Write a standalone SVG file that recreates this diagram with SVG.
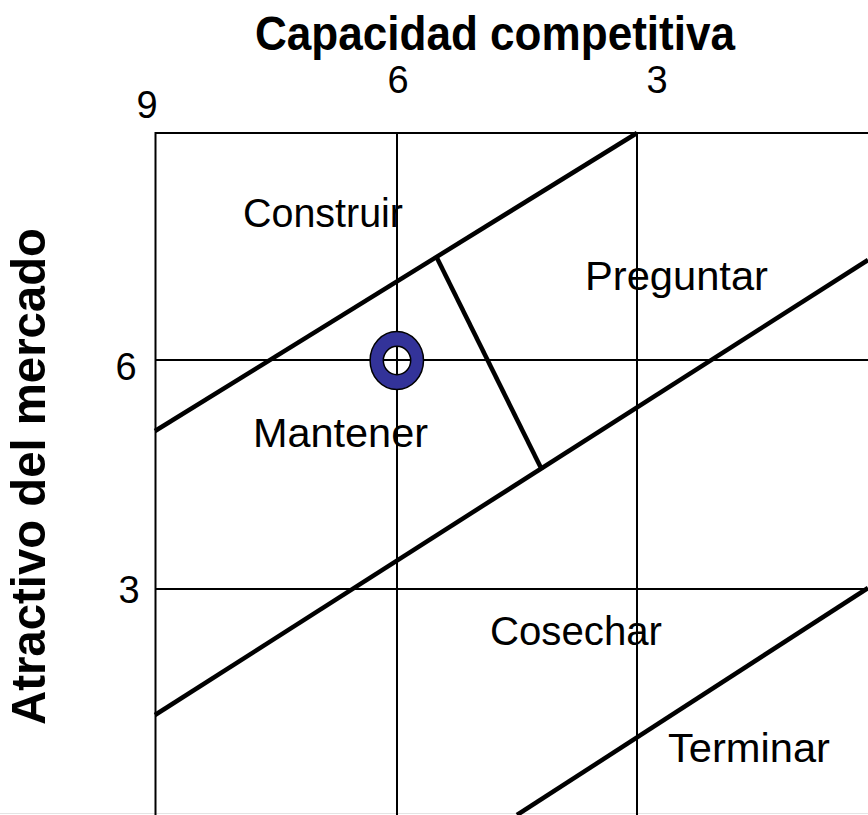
<svg xmlns="http://www.w3.org/2000/svg" width="868" height="815" viewBox="0 0 868 815">
<style>
.grid{stroke:#000;stroke-width:2;fill:none}
.band{stroke:#000;stroke-width:4.5;fill:none}
.lbl{font-family:"Liberation Sans",Arial,sans-serif;font-size:41px;fill:#000}
.num{font-family:"Liberation Sans",Arial,sans-serif;font-size:38px;fill:#000}
.ttl{font-family:"Liberation Sans",Arial,sans-serif;font-size:49px;font-weight:bold;fill:#000}
</style>
<rect width="868" height="815" fill="#fff"/>
<g id="connectors">
<line x1="0" y1="813.5" x2="868" y2="813.5" stroke="#e4e4e4" stroke-width="1"/>
<path class="grid" d="M155.5 815 V133 H868 M397 133 V815 M637 133 V815 M155 360 H868 M155 589 H868"/>
<line class="band" x1="155" y1="431" x2="637" y2="133"/>
<line class="band" x1="155" y1="715" x2="868" y2="260"/>
<line class="band" x1="517" y1="815" x2="868" y2="588"/>
<line class="band" x1="437" y1="258" x2="542" y2="470"/>
</g>
<g id="marker-point">
<path d="M423.5 360.5 A26.7 29 0 1 1 370.1 360.5 A26.7 29 0 1 1 423.5 360.5 Z M410.7 360.5 A13.7 14.2 0 1 0 383.3 360.5 A13.7 14.2 0 1 0 410.7 360.5 Z" fill="#333399" fill-rule="evenodd" stroke="#000" stroke-width="1.5"/>
</g>
<g id="title-x"><text class="ttl" x="255" y="50" textLength="480" lengthAdjust="spacingAndGlyphs">Capacidad competitiva</text></g>
<g id="title-y"><text class="ttl" transform="translate(45,725) rotate(-90)" x="0" y="0" textLength="497" lengthAdjust="spacingAndGlyphs">Atractivo del mercado</text></g>
<g id="ticks">
<text class="num" x="147" y="118" text-anchor="middle">9</text>
<text class="num" x="398" y="93" text-anchor="middle">6</text>
<text class="num" x="657" y="93" text-anchor="middle">3</text>
<text class="num" x="126" y="380" text-anchor="middle">6</text>
<text class="num" x="129" y="603" text-anchor="middle">3</text>
</g>
<g id="construir"><text class="lbl" x="243" y="227" textLength="160" lengthAdjust="spacingAndGlyphs">Construir</text></g>
<g id="preguntar"><text class="lbl" x="585" y="290" textLength="183" lengthAdjust="spacingAndGlyphs">Preguntar</text></g>
<g id="mantener"><text class="lbl" x="253" y="447" textLength="175" lengthAdjust="spacingAndGlyphs">Mantener</text></g>
<g id="cosechar"><text class="lbl" x="490" y="645" textLength="172" lengthAdjust="spacingAndGlyphs">Cosechar</text></g>
<g id="terminar"><text class="lbl" x="668" y="762" textLength="162" lengthAdjust="spacingAndGlyphs">Terminar</text></g>
</svg>
